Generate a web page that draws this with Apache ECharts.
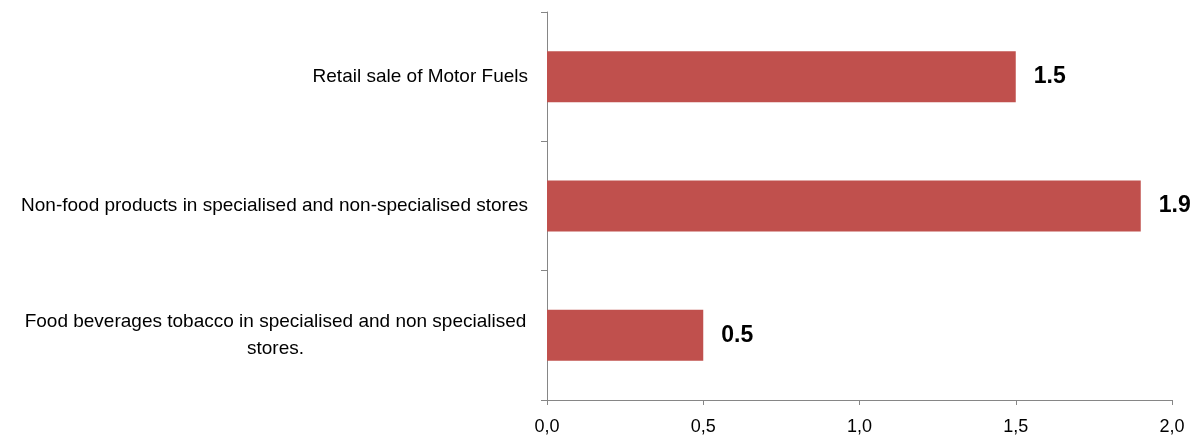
<!DOCTYPE html>
<html><head><meta charset="utf-8">
<script src="https://cdn.jsdelivr.net/npm/echarts@6/dist/echarts.min.js"></script>
<style>html,body{margin:0;padding:0;background:#fff}#c{width:1197px;height:440px}</style>
</head><body><div id="c"></div>
<script>
var categories = ["Food beverages tobacco in specialised and non specialised\nstores.", "Non-food products in specialised and non-specialised stores", "Retail sale of Motor Fuels"];
var values = [0.5, 1.9, 1.5];
var xTicks = [0, 0.5, 1.0, 1.5, 2.0];

var chart = echarts.init(document.getElementById('c'));
chart.setOption({
  animation: false,
  grid: {left: 547, right: 25, top: 12, bottom: 40, containLabel: false},
  xAxis: {
    type: 'value', min: xTicks[0], max: xTicks[xTicks.length-1], interval: 0.5,
    axisLine: {show: true, lineStyle: {color: '#868686', width: 1}},
    axisTick: {show: true, length: 5, lineStyle: {color: '#868686'}},
    splitLine: {show: false},
    axisLabel: {margin: 18, color: '#000', fontSize: 18, fontFamily: 'Liberation Sans',
      formatter: function(v){ return v.toFixed(1).replace('.', ','); }}
  },
  yAxis: {
    type: 'category', data: categories,
    axisLine: {show: true, lineStyle: {color: '#868686', width: 1}},
    axisTick: {show: true, length: 6, lineStyle: {color: '#868686'}},
    axisLabel: {margin: 19, color: '#000', fontSize: 19, fontFamily: 'Liberation Sans', lineHeight: 27,
      formatter: function(v){
        if (v.indexOf('\n') >= 0) {
          var p = v.split('\n');
          return '{a|' + p[0] + '}\n{a|' + p[1] + '}';
        }
        return v;
      },
      rich: {a: {width: 505, align: 'center', fontSize: 19, fontFamily: 'Liberation Sans', color: '#000', lineHeight: 27}}
    }
  },
  series: [{
    type: 'bar', data: values, barWidth: 51,
    itemStyle: {color: '#C0504D'},
    label: {show: true, position: 'right', distance: 18, color: '#000', fontSize: 23, fontWeight: 'bold', fontFamily: 'Liberation Sans',
      formatter: function(p){ return p.value.toFixed(1); }}
  }]
});
</script></body></html>
